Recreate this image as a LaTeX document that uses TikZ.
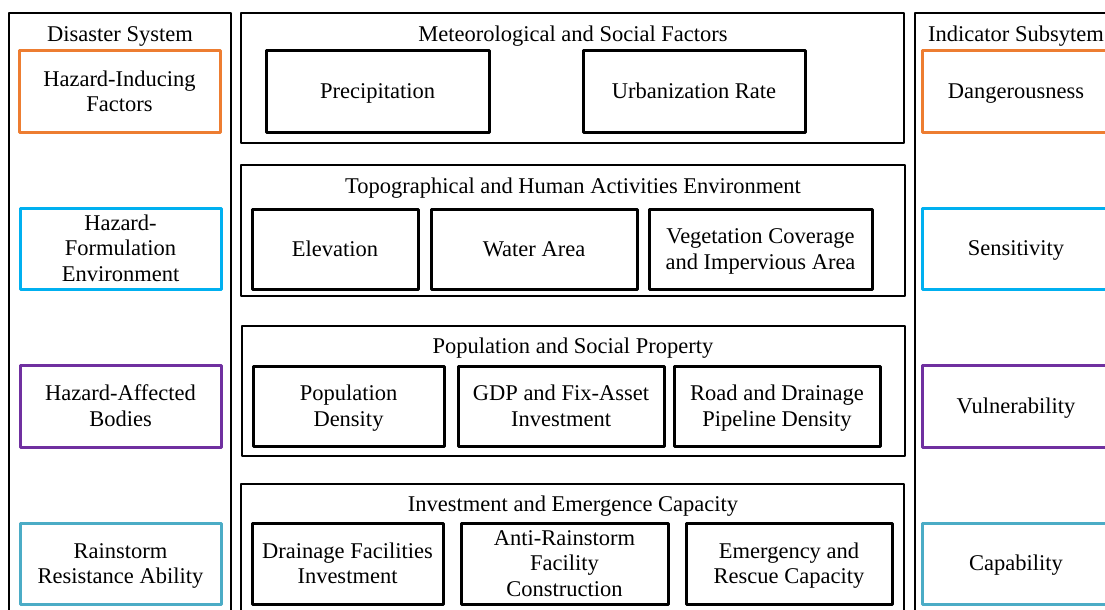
\documentclass[tikz,border=0pt]{standalone}
\usepackage{fontspec}
\setmainfont{Liberation Serif}
\definecolor{hazorange}{RGB}{237,125,49}
\definecolor{hazblue}{RGB}{0,176,240}
\definecolor{hazpurple}{RGB}{112,48,160}
\definecolor{hazteal}{RGB}{75,172,198}
% struts above the first and below the last line, so every label sits on fixed baselines
\newcommand{\topstrut}{\rule{0pt}{20pt}}
\newcommand{\botstrut}{\rule[-5.5pt]{0pt}{5.5pt}}
% box given by its left, top, right and bottom edges (1 unit = 1pt, y downwards)
\newcommand{\edgebox}[7]{%
  \node[#6, minimum width={(#4-#2)*1pt}, minimum height={(#5-#3)*1pt}]
    (#1) at ({(#2+#4)/2},{(#3+#5)/2}) {\topstrut#7\botstrut};}
\begin{document}
\begin{tikzpicture}[x=1pt,y=-1pt,
  txt/.style={font=\fontsize{22.5}{25.5}\selectfont, align=center, inner sep=0pt, outer sep=0pt},
  group/.style={txt, draw=black, line width=2.6pt, line join=round},
  item/.style={txt, draw=black, line width=3pt, line join=round},
  sysbox/.style={txt, draw=#1, line width=3pt, line join=round},
  title/.style={txt}]
\useasboundingbox (0,0) rectangle (1105,610);
\clip (0,0) rectangle (1105,610);
\fill[white] (0,0) rectangle (1105,610);

% left column: disaster system
\edgebox{dsys}{9}{13}{231}{640}{group}{}
\node[title] (dsyst) at (120,34.5) {\topstrut Disaster System\botstrut};
\edgebox{hif}{19}{51}{220}{132}{sysbox=hazorange}{Hazard-Inducing\\Factors}
\edgebox{hfe}{20}{208}{221}{289}{sysbox=hazblue}{Hazard-\\Formulation\\Environment}
\edgebox{hab}{20}{365}{221}{447}{sysbox=hazpurple}{Hazard-Affected\\Bodies}
\edgebox{rra}{20}{523}{221}{604}{sysbox=hazteal}{Rainstorm\\Resistance Ability}

% right column: indicator subsystem
\edgebox{isys}{915}{13}{1118}{640}{group}{}
\node[title] (isyst) at (1016,34.5) {\topstrut Indicator Subsytem\botstrut};
\edgebox{dang}{922}{51}{1110}{132}{sysbox=hazorange}{Dangerousness}
\edgebox{sens}{922}{208}{1110}{289}{sysbox=hazblue}{Sensitivity}
\edgebox{vuln}{922}{365}{1110}{447}{sysbox=hazpurple}{Vulnerability}
\edgebox{capa}{922}{523}{1110}{604}{sysbox=hazteal}{Capability}

% middle column: factor groups
\edgebox{msf}{241}{13}{904}{143}{group}{}
\node[title] (msft) at (573,34.5) {\topstrut Meteorological and Social Factors\botstrut};
\edgebox{prec}{266}{51}{489}{132}{item}{Precipitation}
\edgebox{urb}{583}{51}{805}{132}{item}{Urbanization Rate}

\edgebox{thae}{241}{165}{905}{296}{group}{}
\node[title] (thaet) at (573,186.5) {\topstrut Topographical and Human Activities Environment\botstrut};
\edgebox{elev}{252}{209}{418}{289}{item}{Elevation}
\edgebox{water}{431}{209}{637}{289}{item}{Water Area}
\edgebox{veg}{649}{209}{872}{289}{item}{Vegetation Coverage\\and Impervious Area}

\edgebox{psp}{242}{326}{905}{456}{group}{}
\node[title] (pspt) at (573,346.5) {\topstrut Population and Social Property\botstrut};
\edgebox{popd}{253}{366}{444}{446}{item}{Population\\Density}
\edgebox{gdp}{458}{366}{664}{446}{item}{GDP and Fix-Asset\\Investment}
\edgebox{road}{674}{366}{880}{446}{item}{Road and Drainage\\Pipeline Density}

\edgebox{iec}{241}{484}{904}{616}{group}{}
\node[title] (iect) at (573,504.5) {\topstrut Investment and Emergence Capacity\botstrut};
\edgebox{dfi}{252}{523}{443}{604}{item}{Drainage Facilities\\Investment}
\edgebox{arf}{461}{523}{668}{604}{item}{Anti-Rainstorm\\Facility\\Construction}
\edgebox{erc}{686}{523}{892}{604}{item}{Emergency and\\Rescue Capacity}
\end{tikzpicture}
\end{document}
